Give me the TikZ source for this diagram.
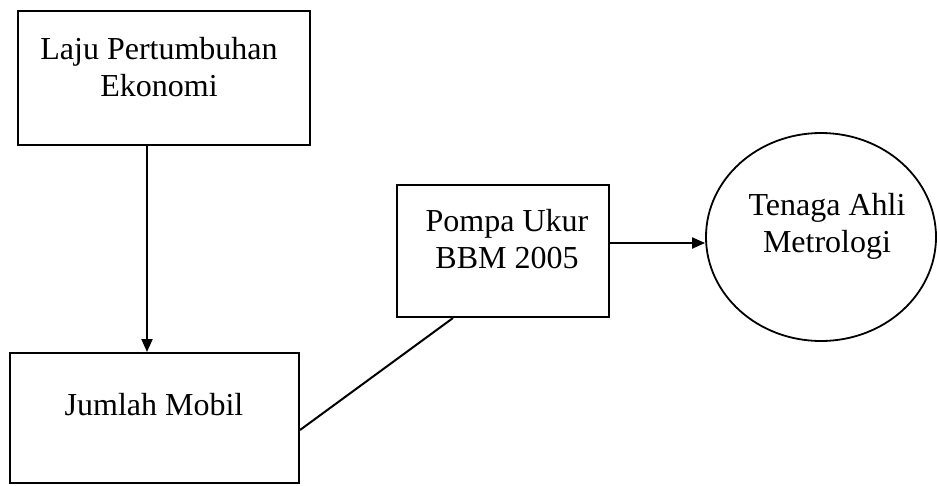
\documentclass[tikz,border=0pt]{standalone}
\usepackage{fontspec}
\setmainfont{Liberation Serif}
\usetikzlibrary{shapes.geometric,arrows.meta}
\begin{document}
\begin{tikzpicture}[x=1pt,y=-1pt,
  boxnode/.style={draw,rectangle,line width=2pt,inner sep=0pt},
  ovalnode/.style={draw,ellipse,line width=1.8pt,inner sep=0pt},
  txt/.style={align=center,anchor=base,inner sep=0pt,font=\fontsize{32}{37}\selectfont},
  conn/.style={line width=2pt},
  arr/.style={conn,-{Triangle[length=13pt,width=11pt]}}]
\useasboundingbox (0,0) rectangle (937,485);
\node[boxnode,minimum width=292pt,minimum height=134pt] (b1) at (164,78) {};
\node[boxnode,minimum width=289pt,minimum height=130pt] (b2) at (154.5,418) {};
\node[boxnode,minimum width=212pt,minimum height=132pt] (b3) at (503,251) {};
\node[ovalnode,minimum width=230pt,minimum height=208pt] (c1) at (821,237) {};
\node[txt] (t1) at (159,96) {Laju Pertumbuhan\\Ekonomi};
\node[txt] (t2) at (154,415) {Jumlah Mobil};
\node[txt] (t3) at (507,268) {Pompa Ukur\\BBM 2005};
\node[txt] (t4) at (827,252) {Tenaga Ahli\\Metrologi};
\draw[arr] (b1.south -| 147,0) -- (b2.north -| 147,0);
\draw[arr] (b3.east |- 0,243) -- (c1.west |- 0,243);
\draw[conn] (b2.east |- 0,430) -- (b3.south -| 453,0);
\end{tikzpicture}
\end{document}
